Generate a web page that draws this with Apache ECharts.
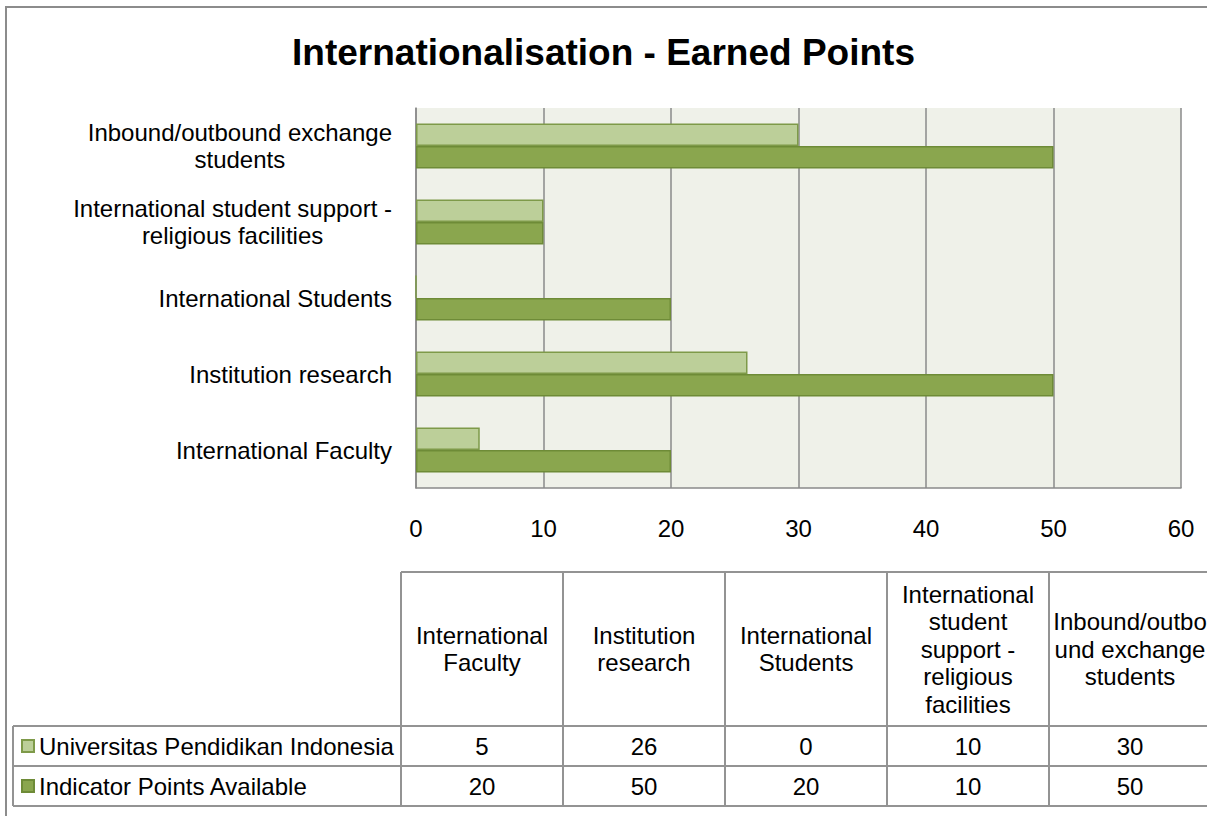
<!DOCTYPE html>
<html>
<head>
<meta charset="utf-8">
<title>Internationalisation - Earned Points</title>
<script src="https://cdn.jsdelivr.net/npm/echarts@6/dist/echarts.min.js"></script>
<style>
  html, body { margin: 0; padding: 0; background: #fff; }
  #chart { width: 1207px; height: 816px; }
</style>
</head>
<body>
<div id="chart"></div>
<script>
// categories, bottom to top on the bar chart, left to right in the table
const categories = ['International Faculty', 'Institution research', 'International Students', 'International student support - religious facilities', 'Inbound/outbound exchange students']
const axisLabels = ['International Faculty', 'Institution research', 'International Students', 'International student support -\nreligious facilities', 'Inbound/outbound exchange\nstudents']
const tableHeaders = ['International\nFaculty', 'Institution\nresearch', 'International\nStudents', 'International\nstudent\nsupport -\nreligious\nfacilities', 'Inbound/outbo\nund exchange\nstudents']
const seriesNames = ['Universitas Pendidikan Indonesia', 'Indicator Points Available']
const upiPoints = [5, 26, 0, 10, 30]
const availablePoints = [20, 50, 20, 10, 50]
const xTicks = [0, 10, 20, 30, 40, 50, 60]

const font = 'Arial, "Liberation Sans", sans-serif'
const fontSize = 24
const gridColor = '#8a8a8a'
const lineColor = '#939393'
const colors = {
  light: '#BCCF99', lightBorder: '#7E9A49',
  dark: '#8AA64E', darkBorder: '#6E8B37'
}

// data table under the chart
const tableLeft = 401
const colW = 162
const headTop = 572
const headBottom = 726
const rowH = 40
const legendLeft = 13

function buildTable() {
  const els = []
  const right = tableLeft + colW * categories.length
  const hline = (x1, x2, y) => els.push({ type: 'line', shape: { x1, y1: y, x2, y2: y }, style: { stroke: lineColor, lineWidth: 2 }, silent: true })
  const vline = (x, y1, y2) => els.push({ type: 'line', shape: { x1: x, y1, x2: x, y2 }, style: { stroke: lineColor, lineWidth: 2 }, silent: true })
  hline(tableLeft, right, headTop)
  hline(legendLeft, right, headBottom)
  hline(legendLeft, right, headBottom + rowH)
  hline(legendLeft, right, headBottom + rowH * 2)
  vline(legendLeft, headBottom, headBottom + rowH * 2)
  for (let i = 0; i <= categories.length; i++) {
    vline(tableLeft + colW * i, headTop, headBottom + rowH * 2)
  }
  const rows = [upiPoints, availablePoints]
  categories.forEach((c, i) => {
    const cx = tableLeft + colW * i + colW / 2
    els.push({
      type: 'text', x: cx, y: (headTop + headBottom) / 2, silent: true,
      style: { text: tableHeaders[i], fill: '#000', font: fontSize + 'px ' + font, lineHeight: 27.5, textAlign: 'center', textVerticalAlign: 'middle' }
    })
    rows.forEach((r, j) => {
      els.push({
        type: 'text', x: cx, y: headBottom + rowH * j + rowH / 2, silent: true,
        style: { text: String(r[i]), fill: '#000', font: fontSize + 'px ' + font, textAlign: 'center', textVerticalAlign: 'middle' }
      })
    })
  })
  // outer chart frame
  els.push({ type: 'rect', shape: { x: 6, y: 7, width: 1230, height: 840 }, style: { fill: 'none', stroke: '#8c8c8c', lineWidth: 2 }, silent: true, z: -1 })
  return els
}

const myChart = echarts.init(document.getElementById('chart'), null, { renderer: 'svg' })
myChart.setOption({
  backgroundColor: '#fff',
  animation: false,
  textStyle: { fontFamily: font },
  title: {
    text: 'Internationalisation - Earned Points',
    left: 'center',
    top: 29,
    textStyle: { fontSize: 37, fontWeight: 'bold', color: '#000', fontFamily: font }
  },
  legend: {
    orient: 'vertical',
    left: 21,
    top: 734,
    padding: 0,
    itemGap: 16,
    itemWidth: 12,
    itemHeight: 12,
    icon: 'rect',
    data: seriesNames,
    textStyle: { fontSize: fontSize, color: '#000', fontFamily: font }
  },
  grid: {
    left: 416,
    top: 108,
    right: 26,
    bottom: 328,
    show: true,
    backgroundColor: '#EFF1E9',
    borderWidth: 0
  },
  xAxis: {
    type: 'value',
    min: xTicks[0],
    max: xTicks[xTicks.length - 1],
    interval: xTicks[1] - xTicks[0],
    axisLine: { show: true, lineStyle: { color: gridColor, width: 1.5 } },
    axisTick: { show: false },
    splitLine: { show: true, lineStyle: { color: gridColor, width: 1.5 } },
    axisLabel: { fontSize: fontSize, color: '#000', margin: 28, fontFamily: font }
  },
  yAxis: {
    type: 'category',
    data: categories,
    axisLine: { show: true, lineStyle: { color: gridColor, width: 1.5 } },
    axisTick: { show: false },
    axisLabel: {
      margin: 24,
      fontSize: fontSize,
      color: '#000',
      formatter: (v, i) => axisLabels[i].split('\n').map(s => '{c|' + s + '}').join('\n'),
      rich: { c: { align: 'center', fontSize: fontSize, lineHeight: 27, color: '#000', fontFamily: font } }
    }
  },
  series: [
    {
      name: seriesNames[0],
      type: 'bar',
      data: upiPoints,
      barGap: '0%',
      barCategoryGap: '41%',
      itemStyle: { color: colors.light, borderColor: colors.lightBorder, borderWidth: 1.5 }
    },
    {
      name: seriesNames[1],
      type: 'bar',
      data: availablePoints,
      barGap: '0%',
      barCategoryGap: '41%',
      itemStyle: { color: colors.dark, borderColor: colors.darkBorder, borderWidth: 1.5 }
    }
  ],
  graphic: buildTable()
})
window.addEventListener('resize', function() {
  myChart.resize()
})
</script>
</body>
</html>
